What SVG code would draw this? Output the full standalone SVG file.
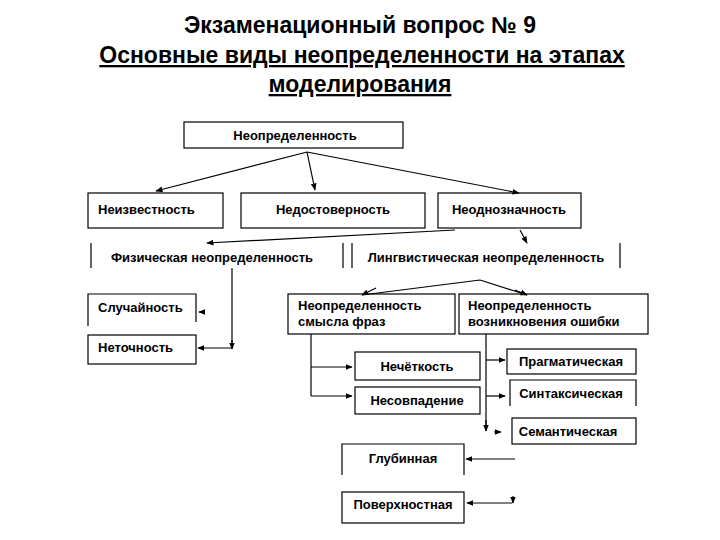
<svg xmlns="http://www.w3.org/2000/svg" width="720" height="540" viewBox="0 0 720 540">
<style>
.t{font-family:"Liberation Sans",Arial,sans-serif;font-weight:bold;font-size:13px;fill:#000}
.h{font-family:"Liberation Sans",Arial,sans-serif;font-weight:bold;font-size:23px;fill:#000;text-anchor:middle}
.b{fill:#fff;stroke:#000;stroke-width:1.2}
.l{fill:none;stroke:#000;stroke-width:1.2}
.c{fill:none;stroke:#000;stroke-width:1.2;marker-end:url(#a)}
</style>
<defs><marker id="a" viewBox="0 0 10 10" refX="9" refY="5" markerWidth="6" markerHeight="6" orient="auto"><path d="M0,1 L10,5 L0,9 z" fill="#000"/></marker></defs>
<rect width="720" height="540" fill="#fff"/>
<g id="title">
<text class="h" x="360" y="33">Экзаменационный вопрос № 9</text>
<text class="h" x="362" y="63" text-decoration="underline">Основные виды неопределенности на этапах</text>
<text class="h" x="360" y="92" text-decoration="underline">моделирования</text>
</g>
<g id="n1"><rect class="b" x="184" y="122" width="219" height="26"/><text class="t" x="295" y="140" text-anchor="middle">Неопределенность</text></g>
<g id="n2"><rect class="b" x="88" y="193" width="135" height="35"/><text class="t" x="98" y="214">Неизвестность</text></g>
<g id="n3"><rect class="b" x="241" y="193" width="184" height="35"/><text class="t" x="333" y="214" text-anchor="middle">Недостоверность</text></g>
<g id="n4"><rect class="b" x="438" y="193" width="143" height="35"/><text class="t" x="509" y="214" text-anchor="middle">Неоднозначность</text></g>
<g id="n5"><path class="l" d="M91,243V268M343,243V268"/><text class="t" x="212" y="262" text-anchor="middle">Физическая неопределенность</text></g>
<g id="n6"><path class="l" d="M352,243V268M620,243V268"/><text class="t" x="486" y="262" text-anchor="middle">Лингвистическая неопределенность</text></g>
<g id="n7"><path class="l" d="M88,326V294H196V322"/><text class="t" x="98" y="312">Случайность</text></g>
<g id="n8"><rect class="b" x="88" y="335" width="108" height="29"/><text class="t" x="98" y="352">Неточность</text></g>
<g id="n9"><rect class="b" x="288" y="294" width="167" height="40"/><text class="t" x="298" y="310">Неопределенность</text><text class="t" x="298" y="326">смысла фраз</text></g>
<g id="n10"><rect class="b" x="459" y="294" width="189" height="40"/><text class="t" x="468" y="310">Неопределенность</text><text class="t" x="468" y="326">возникновения ошибки</text></g>
<g id="n11"><rect class="b" x="355" y="352" width="125" height="28"/><text class="t" x="417" y="371" text-anchor="middle">Нечёткость</text></g>
<g id="n12"><rect class="b" x="355" y="387" width="125" height="27"/><text class="t" x="417" y="405" text-anchor="middle">Несовпадение</text></g>
<g id="n13"><rect class="b" x="507" y="349" width="129" height="25"/><text class="t" x="571" y="366" text-anchor="middle">Прагматическая</text></g>
<g id="n14"><path class="l" d="M510,406V380H636V406"/><text class="t" x="571" y="398" text-anchor="middle">Синтаксическая</text></g>
<g id="n15"><rect class="b" x="512" y="418" width="124" height="26"/><text class="t" x="568" y="436" text-anchor="middle">Семантическая</text></g>
<g id="n16"><path class="l" d="M342,475V444H464V475"/><text class="t" x="403" y="463" text-anchor="middle">Глубинная</text></g>
<g id="n17"><rect class="b" x="342" y="492" width="122" height="31"/><text class="t" x="403" y="509" text-anchor="middle">Поверхностная</text></g>
<g id="connectors">
<path class="c" d="M307,152L156,191"/>
<path class="c" d="M307,152L315,190"/>
<path class="c" d="M307,152L519,193"/>
<path class="c" d="M455,230L207,243"/>
<path class="c" d="M520,230L527,243"/>
<path class="l" d="M232,268V348"/>
<path class="c" d="M232,348H198"/>
<path class="c" d="M205,312H199"/>
<path class="c" d="M232,340V349"/>
<path class="l" d="M480,280L362,295M480,280L527,295"/>
<path class="c" d="M376,288L362,295"/>
<path class="c" d="M515,290L527,295"/>
<path class="l" d="M311,334V396"/>
<path class="c" d="M311,367H352"/>
<path class="c" d="M311,396H352"/>
<path class="l" d="M486,334V430"/>
<path class="c" d="M486,360H505"/>
<path class="c" d="M486,396H505"/>
<path class="c" d="M486,420V431"/>
<path class="c" d="M494,432H501"/>
<path class="c" d="M515,459H466"/>
<path class="c" d="M512,503H467"/>
<path class="c" d="M513,496V503"/>
</g>
</svg>
